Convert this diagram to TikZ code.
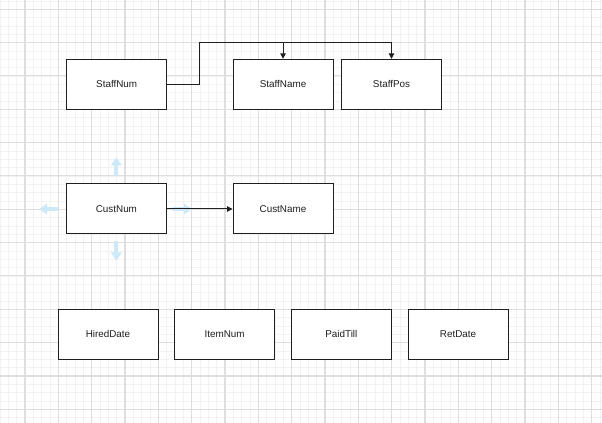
\documentclass[tikz,border=0pt]{standalone}
\usepackage{fontspec}
\setmainfont{Liberation Sans}
\usetikzlibrary{arrows.meta,positioning}
\definecolor{ink}{HTML}{1F1F1F}
\definecolor{gridminor}{HTML}{F2F2F2}
\definecolor{gridmajor}{HTML}{DEDEDE}
\definecolor{hover}{HTML}{CDE8F8}

\begin{document}
\begin{tikzpicture}[x=0.75pt,y=-0.75pt,>={Triangle[length=4pt,width=4pt]},
  attr/.style={draw=ink,line width=0.75pt,fill=white,minimum width=75pt,minimum height=37.5pt,inner sep=0pt,font=\fontsize{7.4}{9}\selectfont,text=ink},
  link/.style={draw=ink,line width=0.75pt,->},
  hoverarrow/.style={draw=hover,line width=3pt,-{Triangle[length=6pt,width=8pt]}}]
\useasboundingbox (0,0) rectangle (602,423);
\fill[white] (0,0) rectangle (602,423);
% grid
\foreach \k in {0,...,72} \draw[gridminor,line width=0.6pt] (\k*8.3333,0) -- (\k*8.3333,423);
\foreach \k in {0,...,50} \draw[gridminor,line width=0.6pt] (0,1+\k*8.3333) -- (602,1+\k*8.3333);
\foreach \k in {0,...,17} \draw[gridmajor,line width=0.8pt] (25+\k*33.3333,0) -- (25+\k*33.3333,423);
\foreach \k in {0,...,12} \draw[gridmajor,line width=0.8pt] (0,9.3+\k*33.3333) -- (602,9.3+\k*33.3333);
% staff
\node[attr] (staffnum) at (116.7,84.3) {StaffNum};
\node[attr,right=49pt of staffnum] (staffname) {StaffName};
\node[attr,right=5.6pt of staffname] (staffpos) {StaffPos};
% customer
\node[attr] (custnum) at (116.4,209) {CustNum};
\node[attr,right=49.2pt of custnum] (custname) {CustName};
% others
\node[attr] (hired) at (108,334.3) {HiredDate};
\node[attr,right=11.75pt of hired] (itemnum) {ItemNum};
\node[attr,right=11.75pt of itemnum] (paidtill) {PaidTill};
\node[attr,right=11.75pt of paidtill] (retdate) {RetDate};
% hover arrows
\draw[hoverarrow] ([yshift=5.5pt]custnum.north) -- ++(0,-18.7);
\draw[hoverarrow] ([yshift=-5pt]custnum.south) -- ++(0,19.3);
\draw[hoverarrow] ([xshift=-5.8pt]custnum.west) -- ++(-19,0);
\draw[hoverarrow] ([xshift=4.7pt]custnum.east) -- ++(18.7,0);
% links
\coordinate (split) at (199.3,42.7);
\draw[link] (staffnum.east) -| (split) -| (staffpos.north);
\draw[link] (split -| staffname.north) -- (staffname.north);
\draw[link] (custnum) -- (custname);
\end{tikzpicture}
\end{document}
